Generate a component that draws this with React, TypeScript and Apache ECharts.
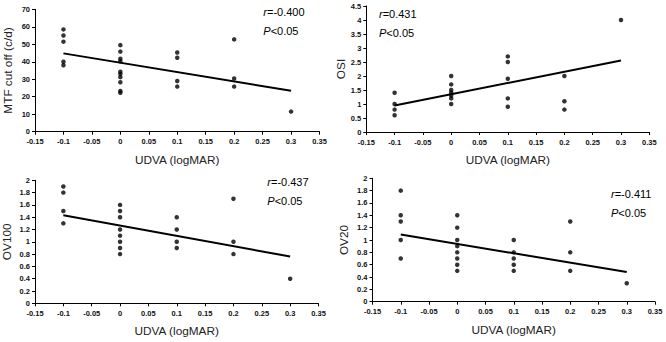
import React, { useEffect, useRef } from "react";
import * as echarts from "echarts";

// UDVA (logMAR) x-values and measured values, per panel
const mtfX = [-0.1, -0.1, -0.1, -0.1, -0.1, 0, 0, 0, 0, 0, 0, 0, 0, 0, 0, 0.1, 0.1, 0.1, 0.1, 0.2, 0.2, 0.2, 0.3];
const mtfY = [58.5, 55, 51.5, 40, 38, 49.5, 45.8, 41.7, 40.3, 34.3, 33, 31.2, 28.3, 23.3, 22.3, 45.3, 42.3, 29, 25.8, 52.8, 30.4, 25.8, 11.5];
const mtfTrend = [[-0.1, 44.8], [0.3, 23.4]];

const osiX = [-0.1, -0.1, -0.1, -0.1, 0, 0, 0, 0, 0, 0, 0, 0.1, 0.1, 0.1, 0.1, 0.1, 0.2, 0.2, 0.2, 0.3];
const osiY = [1.4, 1.0, 0.8, 0.6, 2.0, 1.7, 1.5, 1.4, 1.3, 1.2, 1.0, 2.7, 2.5, 1.9, 1.2, 0.9, 2.0, 1.1, 0.8, 4.0];
const osiTrend = [[-0.1, 0.95], [0.3, 2.55]];

const ov100X = [-0.1, -0.1, -0.1, -0.1, 0, 0, 0, 0, 0, 0, 0, 0, 0.1, 0.1, 0.1, 0.1, 0.2, 0.2, 0.2, 0.3];
const ov100Y = [1.9, 1.8, 1.5, 1.3, 1.6, 1.5, 1.4, 1.2, 1.1, 1.0, 0.9, 0.8, 1.4, 1.2, 1.0, 0.9, 1.7, 1.0, 0.8, 0.4];
const ov100Trend = [[-0.1, 1.43], [0.3, 0.76]];

const ov20X = [-0.1, -0.1, -0.1, -0.1, -0.1, 0, 0, 0, 0, 0, 0, 0, 0, 0.1, 0.1, 0.1, 0.1, 0.1, 0.2, 0.2, 0.2, 0.3];
const ov20Y = [1.8, 1.4, 1.3, 1.0, 0.7, 1.4, 1.2, 1.0, 0.9, 0.8, 0.7, 0.6, 0.5, 1.0, 0.8, 0.7, 0.6, 0.5, 1.3, 0.8, 0.5, 0.3];
const ov20Trend = [[-0.1, 1.09], [0.3, 0.48]];

const yNames = ["MTF cut off (c/d)", "OSI", "OV100", "OV20"];
const rTexts = ["=-0.400", "=0.431", "=-0.437", "=-0.411"];
const pText = "<0.05";
const xName = "UDVA (logMAR)";
const yMax = [70, 4.5, 2, 2];
const yInterval = [10, 0.5, 0.2, 0.2];

const FONT = "'Liberation Sans', Arial, sans-serif";

export default function App() {
  const ref = useRef<HTMLDivElement>(null);
  useEffect(() => {
    if (!ref.current) return;
    const chart = echarts.init(ref.current, null, { renderer: "svg" });
    const grids = [
      { left: 35, top: 9.3, width: 284.5, height: 122.4 },
      { left: 366.3, top: 6, width: 283, height: 126 },
      { left: 35, top: 180.3, width: 283.5, height: 123 },
      { left: 372.5, top: 178.3, width: 282.5, height: 123.4 },
    ];
    const yNameGaps = [21, 17, 22, 23];
    const xs = [mtfX, osiX, ov100X, ov20X];
    const ys = [mtfY, osiY, ov100Y, ov20Y];
    const trends = [mtfTrend, osiTrend, ov100Trend, ov20Trend];
    const textPos = [
      [263.3, 12.3, 30.7],
      [379, 14, 33.3],
      [267.3, 182, 201],
      [611, 193.7, 212.7],
    ];
    const axisLineStyle = { show: true, lineStyle: { color: "#000", width: 1 } };
    const option: any = {
      animation: false,
      backgroundColor: "#fff",
      grid: grids,
      xAxis: grids.map((_, i) => ({
        type: "value",
        gridIndex: i,
        min: -0.15,
        max: 0.35,
        interval: 0.05,
        name: xName,
        nameLocation: "middle",
        nameGap: 22,
        nameTextStyle: { fontFamily: FONT, fontSize: 11.8, color: "#222" },
        axisLine: { ...axisLineStyle, onZero: false },
        axisTick: { show: true, inside: false, length: 3, lineStyle: { color: "#000" } },
        axisLabel: { fontFamily: FONT, fontSize: 7.5, fontWeight: "bold", color: "#111", margin: 6 },
        splitLine: { show: false },
      })),
      yAxis: grids.map((_, i) => ({
        type: "value",
        gridIndex: i,
        min: 0,
        max: yMax[i],
        interval: yInterval[i],
        name: yNames[i],
        nameLocation: "middle",
        nameRotate: 90,
        nameGap: yNameGaps[i],
        nameTextStyle: { fontFamily: FONT, fontSize: 11.8, color: "#222" },
        axisLine: { ...axisLineStyle, onZero: false },
        axisTick: { show: true, inside: false, length: 3, lineStyle: { color: "#000" } },
        axisLabel: { fontFamily: FONT, fontSize: 7.5, fontWeight: "bold", color: "#111", margin: 5 },
        splitLine: { show: false },
      })),
      series: [
        ...grids.map((_, i) => ({
          type: "scatter",
          xAxisIndex: i,
          yAxisIndex: i,
          symbol: "circle",
          symbolSize: 4.5,
          itemStyle: { color: "#000" },
          data: xs[i].map((x, k) => [x, ys[i][k]]),
        })),
        ...grids.map((_, i) => ({
          type: "line",
          xAxisIndex: i,
          yAxisIndex: i,
          showSymbol: false,
          symbol: "none",
          lineStyle: { color: "#000", width: 2 },
          data: trends[i],
        })),
      ],
      graphic: textPos.flatMap((p, i) => [
        {
          type: "text",
          x: p[0],
          y: p[1],
          style: {
            text: "{i|r}" + rTexts[i],
            font: `11px ${FONT}`,
            fill: "#000",
            verticalAlign: "middle",
            rich: { i: { fontStyle: "italic", fontSize: 11, fontFamily: FONT } },
          },
        },
        {
          type: "text",
          x: p[0],
          y: p[2],
          style: {
            text: "{i|P}" + pText,
            font: `11px ${FONT}`,
            fill: "#000",
            verticalAlign: "middle",
            rich: { i: { fontStyle: "italic", fontSize: 11, fontFamily: FONT } },
          },
        },
      ]),
    };
    chart.setOption(option);
    return () => chart.dispose();
  }, []);
  return (
    <div
      ref={ref}
      style={{ position: "fixed", left: 0, top: 0, width: 666, height: 342, background: "#fff" }}
    />
  );
}
